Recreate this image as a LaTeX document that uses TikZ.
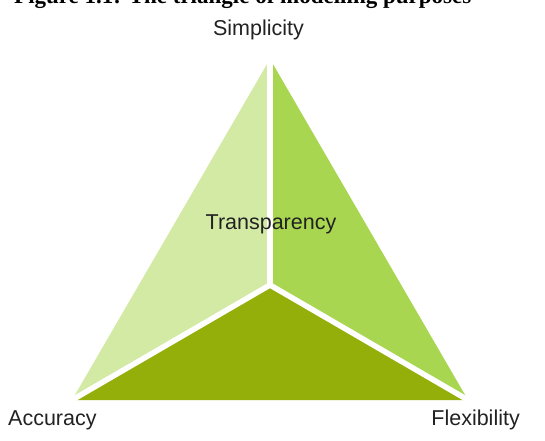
\documentclass[tikz,border=0pt]{standalone}
\usepackage{fontspec}
\usetikzlibrary{calc}
\setmainfont{Liberation Sans}
\newfontfamily\titlefont{Liberation Serif}
\definecolor{leftgreen}{HTML}{D3EAA5}
\definecolor{rightgreen}{HTML}{A9D651}
\definecolor{bottomgreen}{HTML}{94AE0A}
\definecolor{labelgray}{HTML}{222222}
\begin{document}
\begin{tikzpicture}[x=1pt,y=-1pt,
  lbl/.style={inner sep=0pt,text=labelgray,font=\fontsize{21.5}{24}\selectfont},
  gap/.style={draw=white,line width=5.5pt,line cap=round}]
\clip (0,0) rectangle (545,440);
\fill[white] (0,0) rectangle (545,440);
\coordinate (A) at (72,400);
\coordinate (B) at (468,400);
\coordinate (C) at (270,59);
\coordinate (O) at (270,285);
\fill[leftgreen] (A) -- (C) -- (O) -- cycle;
\fill[rightgreen] (C) -- (B) -- (O) -- cycle;
\fill[bottomgreen] (A) -- (B) -- (O) -- cycle;
\draw[gap] (O) -- (C);
\draw[gap,line cap=butt] (O) -- ($(O)!1.02!(A)$);
\draw[gap,line cap=butt] (O) -- ($(O)!1.02!(B)$);
\node[inner sep=0pt,anchor=base west,font=\titlefont\bfseries\fontsize{23}{26}\selectfont] (title) at (14,3) {Figure 1.1: The triangle of modelling purposes};
\node[lbl,anchor=base] (simp) at (258.5,35) {Simplicity};
\node[lbl,anchor=base] (trans) at (271,229) {Transparency};
\node[lbl,anchor=base west] (acc) at (8,425) {Accuracy};
\node[lbl,anchor=base east] (flex) at (520,425) {Flexibility};
\end{tikzpicture}
\end{document}
